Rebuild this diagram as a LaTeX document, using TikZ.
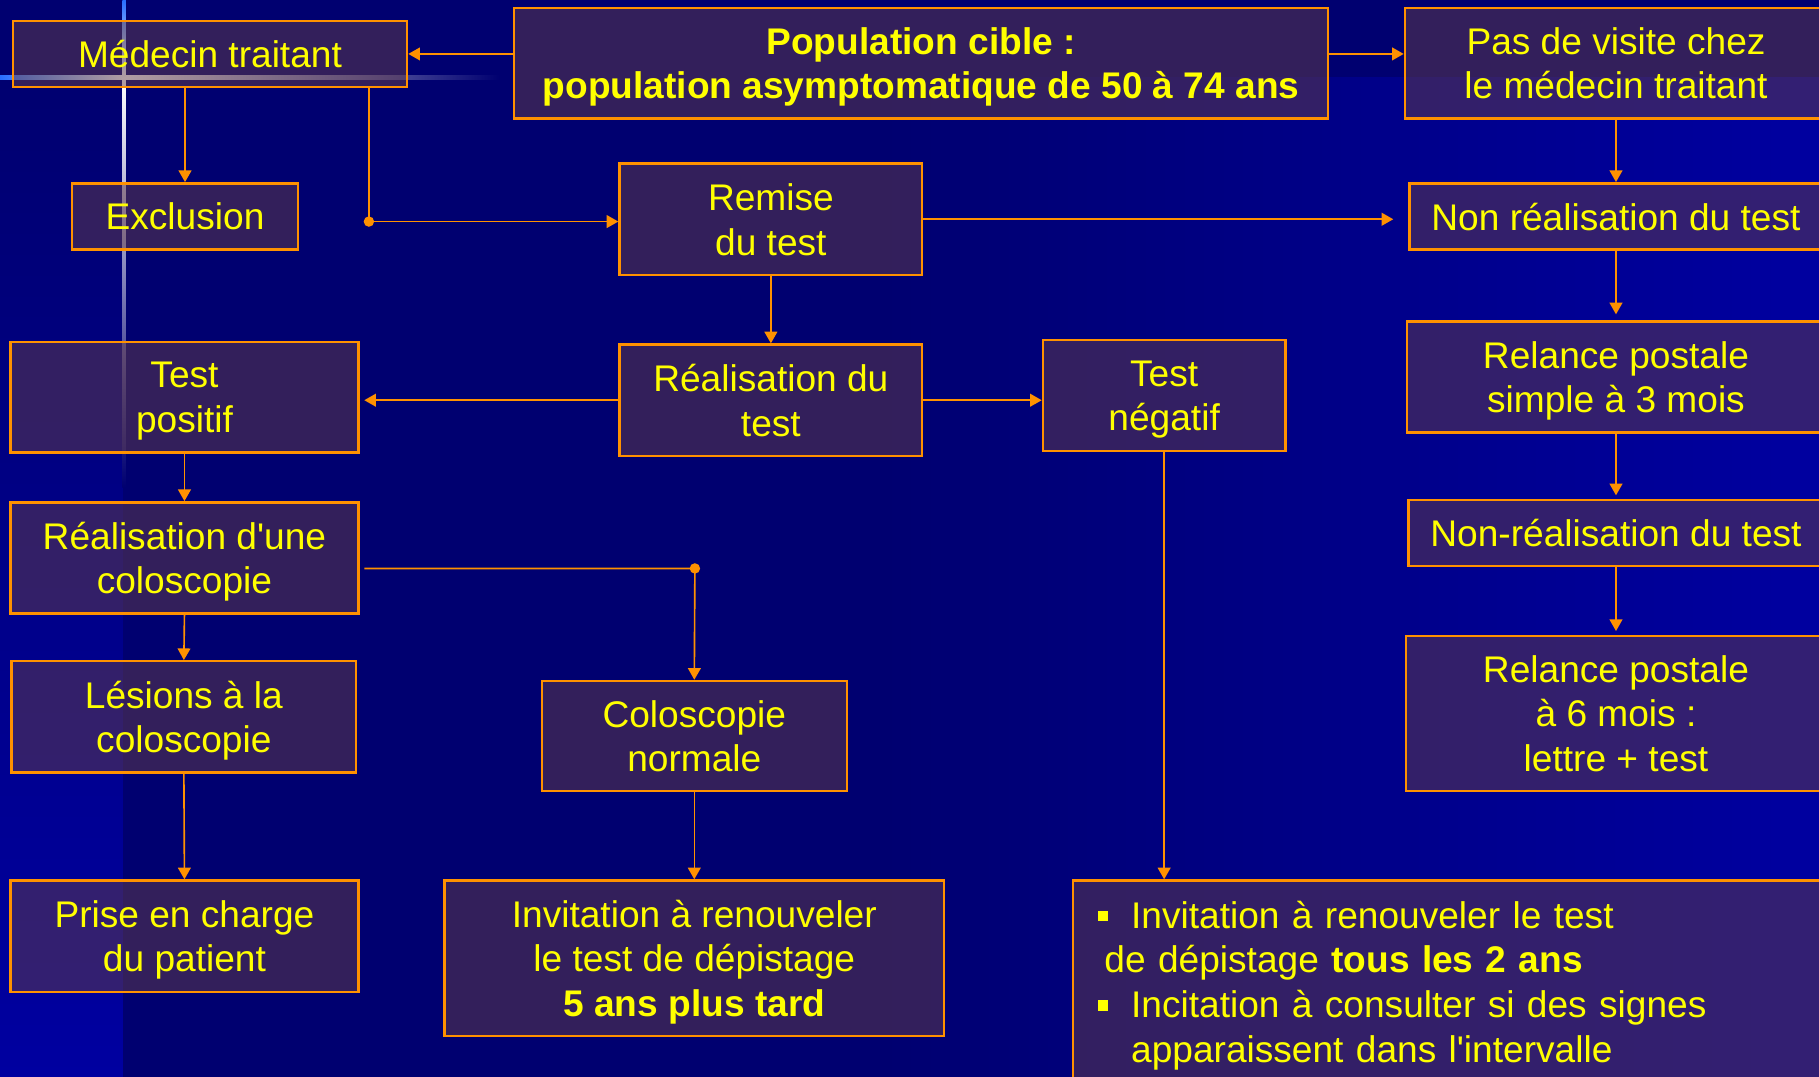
\documentclass[tikz,border=0pt]{standalone}
\usepackage{fontspec}
\setmainfont{Liberation Sans}
\usetikzlibrary{arrows.meta}

\definecolor{bgnavy}{RGB}{0,0,112}
\definecolor{bgblue}{RGB}{0,0,160}
\definecolor{flareblue}{RGB}{40,110,255}
\definecolor{boxorange}{RGB}{255,145,0}
\definecolor{boxfill}{RGB}{102,62,72}
\definecolor{txtyellow}{RGB}{255,255,0}

\tikzset{
  box/.style={draw=boxorange, line width=1.2pt, fill=boxfill, fill opacity=0.5,
    text opacity=1, text=txtyellow, align=center, inner sep=0pt, text depth=-0.13cm,
    font=\fontsize{18.2}{21.9}\selectfont},
  boldbox/.style={box, font=\fontsize{18.2}{21.9}\selectfont\bfseries},
  listbox/.style={box, align=left, text depth={}},
  link/.style={draw=boxorange, line width=0.8pt, -{Triangle[length=0.2cm,width=0.22cm]}},
  plain/.style={draw=boxorange, line width=0.8pt}
}

\begin{document}
\begin{tikzpicture}[x=0.02cm, y=-0.02cm]
        \useasboundingbox (0,0) rectangle (1568,928);
        \clip (0,0) rectangle (1568,928);
        % fond
        \fill[bgnavy] (0,0) rectangle (1568,928);
        \shade[left color=bgnavy, right color=bgblue] (760,67) rectangle (1568,928);
        \shade[top color=bgnavy, bottom color=bgblue] (0,67) rectangle (106,928);
        \shade[left color=flareblue, right color=white] (0,65.5) rectangle (107,68.5);
        \shade[left color=white, middle color=flareblue, right color=bgnavy] (107,65.5) rectangle (430,68.5);
        \shade[top color=flareblue, bottom color=white] (105.5,0) rectangle (108.5,67);
        \shade[top color=white, middle color=flareblue, bottom color=bgnavy] (105.5,67) rectangle (108.5,420);

        % boites
        \node[box, minimum width=6.8cm, minimum height=1.14cm] (med) at (181,46.5) {Médecin traitant};
        \node[boldbox, minimum width=14.04cm, minimum height=1.9cm] (pop) at (794,54.5)
            {Population cible :\\population asymptomatique de 50 à 74 ans};
        \node[box, minimum width=7.28cm, minimum height=1.9cm] (pasvis) at (1393,54.5)
            {Pas de visite chez\\le médecin traitant};
        \node[box, minimum width=3.9cm, minimum height=1.14cm] (excl) at (159.5,186.5) {Exclusion};
        \node[box, minimum width=5.22cm, minimum height=1.92cm] (remise) at (664.5,189) {Remise\\du test};
        \node[box, minimum width=7.12cm, minimum height=1.14cm] (nonreal) at (1393,186.5) {Non réalisation du test};
        \node[box, minimum width=6cm, minimum height=1.9cm] (tpos) at (159,342.5) {Test\\positif};
        \node[box, minimum width=5.22cm, minimum height=1.92cm] (real) at (664.5,345) {Réalisation du\\test};
        \node[box, minimum width=4.18cm, minimum height=1.92cm] (tneg) at (1003.5,341) {Test\\négatif};
        \node[box, minimum width=7.2cm, minimum height=1.92cm] (rel3) at (1393,325)
            {Relance postale\\simple à 3 mois};
        \node[box, minimum width=6cm, minimum height=1.92cm] (colo) at (159,481)
            {Réalisation d\textquotesingle une\\coloscopie};
        \node[box, minimum width=7.16cm, minimum height=1.14cm] (nonreal2) at (1393,459.5) {Non-réalisation du test};
        \node[box, minimum width=5.94cm, minimum height=1.92cm] (les) at (158.5,618) {Lésions à la\\coloscopie};
        \node[box, minimum width=5.26cm, minimum height=1.9cm] (colnorm) at (598.5,634.5) {Coloscopie\\normale};
        \node[box, minimum width=7.24cm, minimum height=2.68cm] (rel6) at (1393,615)
            {Relance postale\\à 6 mois :\\lettre + test};
        \node[box, minimum width=6cm, minimum height=1.92cm] (prise) at (159,807) {Prise en charge\\du patient};
        \node[box, minimum width=8.62cm, minimum height=2.68cm] (inv5) at (598.5,826)
            {Invitation à renouveler\\le test de dépistage\\\textbf{5 ans plus tard}};
        \node[listbox, text width=12.26cm, inner xsep=0.42cm, minimum height=3.62cm] (cons) at (1252.5,849.5)
            {\makebox[0.58cm][l]{\raisebox{0.12cm}{\rule{0.18cm}{0.18cm}}}Invitation à renouveler le test\\
             \hspace*{0.12cm}de dépistage \textbf{tous les 2 ans}\\
             \makebox[0.58cm][l]{\raisebox{0.12cm}{\rule{0.18cm}{0.18cm}}}Incitation à consulter si des signes\\
             \hspace*{0.58cm}apparaissent dans l\textquotesingle intervalle};

        \coordinate (bend1) at (318,191);
        \coordinate (bend2) at (599,490);

        % liens
        \draw[link] (med.east -| pop.west) -- (med.east);
        \draw[link] (med.east -| pop.east) -- (med.east -| pasvis.west);
        \draw[link] (excl.north |- med.south) -- (excl.north);
        \draw[link] (bend1 |- med.south) -- (bend1) -- (bend1 -| remise.west);
        \fill[boxorange] (bend1) circle (0.09cm);
        \draw[link, shorten >=0.26cm] (remise.east) -- (remise.east -| nonreal.west);
        \draw[link] (pasvis.south) -- (nonreal.north);
        \draw[link, shorten >=0.1cm] (nonreal.south) -- (rel3.north);
        \draw[link, shorten >=0.06cm] (rel3.south) -- (nonreal2.north);
        \draw[link, shorten >=0.06cm] (nonreal2.south) -- (rel6.north);
        \draw[link] (remise.south) -- (real.north);
        \draw[link, shorten >=0.08cm] (real.west) -- (real.west -| tpos.east);
        \draw[link] (real.east) -- (real.east -| tneg.west);
        \draw[link] (tpos.south) -- (colo.north);
        \draw[link] ([xshift=0.08cm]colo.east |- bend2) -- (bend2) -- (colnorm.north);
        \fill[boxorange] (bend2) circle (0.09cm);
        \draw[link] (colo.south) -- (les.north);
        \draw[link] (les.south) -- (prise.north);
        \draw[link] (colnorm.south) -- (inv5.north);
        \draw[link] (tneg.south) -- (tneg.south |- cons.north);
    \end{tikzpicture}
\end{document}
